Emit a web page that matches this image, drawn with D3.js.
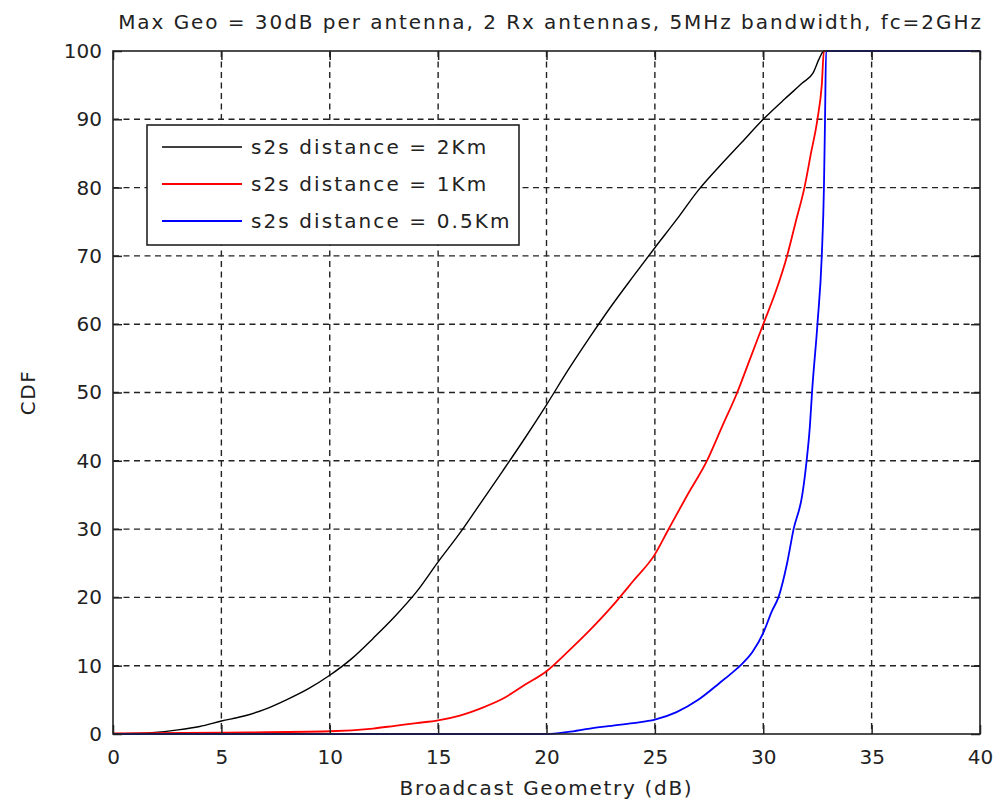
<!DOCTYPE html>
<meta charset="utf-8">
<style>
body { margin: 0; background: #fff; }
text { font-family: "DejaVu Sans", sans-serif; fill: #222; }
.grid line { stroke: #222; stroke-width: 1.4; stroke-dasharray: 6,4.5; }
.curve { fill: none; stroke-width: 1.5; }
</style>
<body>
<script src="https://d3js.org/d3.v7.min.js"></script>
<script>
// Chart data
var title = "Max Geo = 30dB per antenna, 2 Rx antennas, 5MHz bandwidth, fc=2GHz";
var xLabel = "Broadcast Geometry (dB)";
var yLabel = "CDF";
var xTicks = [0, 5, 10, 15, 20, 25, 30, 35, 40];
var yTicks = [0, 10, 20, 30, 40, 50, 60, 70, 80, 90, 100];

// s2s distance = 2Km (black)
var geo2km = [0, 1.8, 3, 4, 5, 6, 7, 8, 9, 10, 11, 12, 13, 14, 15, 16, 17, 18, 19, 20, 21, 22, 23, 24, 25, 26, 27, 28, 29, 30, 31, 31.8, 32.3, 32.6, 32.8, 40];
var cdf2km = [0, 0.2, 0.6, 1.1, 1.9, 2.6, 3.6, 5, 6.6, 8.6, 11, 14, 17.2, 20.8, 25.2, 29.4, 34, 38.6, 43.3, 48.2, 53.3, 58.1, 62.7, 67, 71.2, 75.3, 79.6, 83.2, 86.6, 90, 93, 95.3, 96.8, 99, 100, 100];

// s2s distance = 1Km (red)
var geo1km = [0, 5, 10, 12, 13, 14, 15, 16, 17, 18, 19, 20, 21, 22, 23, 24, 25, 25.6, 26.5, 27.4, 28.1, 28.8, 29.4, 30, 30.6, 31.1, 31.5, 31.9, 32.2, 32.5, 32.7, 32.8, 40];
var cdf1km = [0.1, 0.2, 0.4, 0.8, 1.2, 1.6, 2.0, 2.7, 3.8, 5.2, 7.2, 9.2, 12.1, 15.2, 18.6, 22.4, 26.3, 29.8, 35, 40, 45, 50, 55, 60, 65, 70, 75, 80, 85, 90, 95, 100, 100];

// s2s distance = 0.5Km (blue)
var geo05km = [0, 20, 21, 22, 23, 24, 25, 26, 27, 28, 28.5, 29, 29.5, 30, 30.4, 30.7, 31.1, 31.4, 31.8, 32, 32.15, 32.25, 32.5, 32.7, 32.8, 32.85, 32.9, 40];
var cdf05km = [0, 0, 0.3, 0.8, 1.2, 1.6, 2.1, 3.2, 5, 7.5, 8.8, 10.2, 12, 14.8, 18, 20, 25, 30, 35, 40, 45, 50, 60, 70, 80, 90, 100, 100];

var seriesNames = ["s2s distance = 2Km", "s2s distance = 1Km", "s2s distance = 0.5Km"];
var seriesColors = ["#000000", "#ff0000", "#0000ff"];

var series = [
  d3.zip(geo2km, cdf2km),
  d3.zip(geo1km, cdf1km),
  d3.zip(geo05km, cdf05km)
];

// Dimensions
var W = 994, H = 806;
var margin = {top: 51, right: 14, bottom: 72, left: 113};
var width = W - margin.left - margin.right,
    height = H - margin.top - margin.bottom;

var x = d3.scaleLinear().domain([0, 40]).range([0, width]);
var y = d3.scaleLinear().domain([0, 100]).range([height, 0]);

var svg = d3.select("body").append("svg")
    .attr("width", W)
    .attr("height", H);

var g = svg.append("g")
    .attr("transform", "translate(" + margin.left + "," + margin.top + ")");

// grid
var grid = g.append("g").attr("class", "grid");
grid.selectAll(".vx")
    .data(xTicks.slice(1, -1))
  .enter().append("line")
    .attr("x1", function(d) { return x(d); })
    .attr("x2", function(d) { return x(d); })
    .attr("y1", 0)
    .attr("y2", height);
grid.selectAll(".hy")
    .data(yTicks.slice(1, -1))
  .enter().append("line")
    .attr("x1", 0)
    .attr("x2", width)
    .attr("y1", function(d) { return y(d); })
    .attr("y2", function(d) { return y(d); });

// curves
var line = d3.line()
    .curve(d3.curveMonotoneX)
    .x(function(d) { return x(d[0]); })
    .y(function(d) { return y(d[1]); });

g.selectAll(".curve")
    .data(series)
  .enter().append("path")
    .attr("class", "curve")
    .attr("d", line)
    .style("stroke", function(d, i) { return seriesColors[i]; })
    .style("stroke-width", function(d, i) { return i == 0 ? 1.4 : 1.8; });

// axes (MATLAB style: inward ticks on all four sides)
var tk = 9;
function styleAxis(sel) {
  sel.select(".domain").remove();
  sel.selectAll(".tick line").attr("stroke", "#222").attr("stroke-width", 1.5);
  sel.selectAll(".tick text").style("font-size", "20px").attr("fill", "#222");
}
g.append("g")
    .attr("transform", "translate(0," + height + ")")
    .call(d3.axisBottom(x).tickValues(xTicks).tickSize(-tk).tickPadding(16))
    .call(styleAxis);
g.append("g")
    .call(d3.axisTop(x).tickValues(xTicks).tickSize(-tk).tickFormat(""))
    .call(styleAxis);
g.append("g")
    .call(d3.axisLeft(y).tickValues(yTicks).tickSize(-tk).tickPadding(11))
    .call(styleAxis);
g.append("g")
    .attr("transform", "translate(" + width + ",0)")
    .call(d3.axisRight(y).tickValues(yTicks).tickSize(-tk).tickFormat(""))
    .call(styleAxis);

g.append("rect")
    .attr("width", width)
    .attr("height", height)
    .attr("fill", "none")
    .attr("stroke", "#222")
    .attr("stroke-width", 1.6);

// titles
svg.append("text")
    .attr("x", margin.left + width / 2 + 4)
    .attr("y", 29)
    .attr("text-anchor", "middle")
    .style("font-size", "20px")
    .style("letter-spacing", "1.95px")
    .text(title);
svg.append("text")
    .attr("x", margin.left + width / 2)
    .attr("y", 795)
    .attr("text-anchor", "middle")
    .style("font-size", "20px")
    .style("letter-spacing", "1.7px")
    .text(xLabel);
svg.append("text")
    .attr("transform", "translate(35," + (margin.top + height / 2) + ") rotate(-90)")
    .attr("text-anchor", "middle")
    .style("font-size", "20px")
    .style("letter-spacing", "1.5px")
    .text(yLabel);

// legend
var lg = svg.append("g").attr("transform", "translate(147,125)");
lg.append("rect")
    .attr("width", 372)
    .attr("height", 120)
    .attr("fill", "#fff")
    .attr("stroke", "#222")
    .attr("stroke-width", 1.6);
var rows = lg.selectAll(".row")
    .data(seriesNames)
  .enter().append("g")
    .attr("transform", function(d, i) { return "translate(0," + (22 + i * 37) + ")"; });
rows.append("line")
    .attr("x1", 15)
    .attr("x2", 95)
    .attr("stroke", function(d, i) { return seriesColors[i]; })
    .attr("stroke-width", function(d, i) { return i == 0 ? 1.4 : 1.8; });
rows.append("text")
    .attr("x", 104)
    .attr("dy", "0.36em")
    .style("font-size", "20px")
    .style("letter-spacing", "2.1px")
    .text(function(d) { return d; });
</script>
</body>
